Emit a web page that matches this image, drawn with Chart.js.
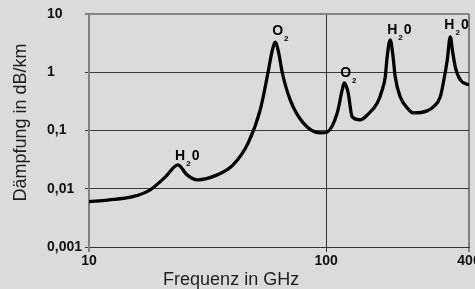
<!DOCTYPE html>
<html><head><meta charset="utf-8">
<script src="https://cdn.jsdelivr.net/npm/chart.js@4/dist/chart.umd.min.js"></script>
<style>html,body{margin:0;padding:0;background:#dbdbdb;overflow:hidden}</style>
</head><body>
<canvas id="c" width="475" height="289"></canvas>
<script>
// Data
const frequencies = [10, 12, 15.3, 18.1, 21, 23.7, 25.9, 28.6, 34.7, 40.5, 46.9, 52.7, 56.9, 59, 60.9, 63, 65.2, 70.5, 80, 94.3, 101, 111.3, 116.8, 119.1, 121, 123.8, 128.7, 139.2, 149, 164.2, 172.2, 177.4, 180.7, 186.2, 191, 195.5, 205.2, 219.8, 232.9, 266.6, 282.8, 302.6, 311.7, 323.9, 333.6, 341, 350.2, 367.7, 400];
const attenuation = [0.006, 0.0064, 0.0073, 0.0096, 0.016, 0.0257, 0.0173, 0.0142, 0.0173, 0.0257, 0.0613, 0.2256, 1.01, 2.2, 3.3, 2.2, 1.01, 0.335, 0.135, 0.091, 0.0946, 0.2, 0.497, 0.655, 0.6, 0.441, 0.171, 0.152, 0.185, 0.297, 0.497, 0.831, 1.83, 3.58, 2.0, 0.831, 0.377, 0.244, 0.2, 0.217, 0.254, 0.377, 0.655, 1.63, 4.03, 2.3, 1.23, 0.738, 0.606];
const xTickValues = [10, 100, 400];
const xTickLabels = ['10', '100', '400'];
const yTickValues = [0.001, 0.01, 0.1, 1, 10];
const yTickLabels = ['0,001', '0,01', '0,1', '1', '10'];
const xTitle = 'Frequenz in GHz';
const yTitle = 'Dämpfung in dB/km';
const labelFreq = [23.06, 59.2, 114.6, 180.7, 314.9];
const labelAtt = [0.0313, 4.36, 0.831, 4.54, 5.53];
const labelMain = ['H', 'O', 'O', 'H', 'H'];
const labelSub = ['2', '2', '2', '2', '2'];
const labelTail = ['0', '', '', '0', '0'];

const FONT = '"Liberation Sans", Arial, sans-serif';

const decor = {
  id: 'decor',
  beforeDraw(chart) {
    const c = chart.ctx;
    c.save();
    c.fillStyle = '#dbdbdb';
    c.fillRect(0, 0, chart.width, chart.height);
    c.restore();
  },
  afterDraw(chart) {
    const ctx = chart.ctx, a = chart.chartArea, xs = chart.scales.x, ys = chart.scales.y;
    ctx.save();
    ctx.fillStyle = '#1e1e1e';
    ctx.font = '18px ' + FONT;
    ctx.textAlign = 'center';
    ctx.textBaseline = 'alphabetic';
    ctx.fillText(xTitle, a.left + a.width * 0.374, chart.height - 4);
    ctx.save();
    ctx.translate(21, a.top + a.height * 0.466);
    ctx.rotate(-Math.PI / 2);
    ctx.textBaseline = 'middle';
    ctx.fillText(yTitle, 0, 0);
    ctx.restore();

    ctx.textAlign = 'left';
    ctx.textBaseline = 'alphabetic';
    ctx.fillStyle = '#000';
    for (let i = 0; i < labelFreq.length; i++) {
      const px = xs.getPixelForValue(labelFreq[i]);
      const py = ys.getPixelForValue(labelAtt[i]);
      ctx.font = 'bold 14px ' + FONT;
      ctx.fillText(labelMain[i], px, py);
      let w = ctx.measureText(labelMain[i]).width;
      ctx.font = 'bold 8px ' + FONT;
      ctx.fillText(labelSub[i], px + w + 1, py + 6);
      w += ctx.measureText(labelSub[i]).width + 2;
      ctx.font = 'bold 14px ' + FONT;
      ctx.fillText(labelTail[i], px + w, py);
    }
    ctx.restore();
  }
};

new Chart(document.getElementById('c'), {
  type: 'line',
  data: {
    datasets: [{
      data: frequencies.map((f, i) => ({ x: f, y: attenuation[i] })),
      borderColor: '#000',
      borderWidth: 3.3,
      pointRadius: 0,
      fill: false,
      cubicInterpolationMode: 'monotone'
    }]
  },
  options: {
    responsive: false,
    animation: false,
    layout: { padding: { left: 47, right: 6, top: 14, bottom: 0 } },
    plugins: { legend: { display: false }, tooltip: { enabled: false } },
    scales: {
      x: {
        type: 'logarithmic', min: 10, max: 400,
        afterBuildTicks(s) { s.ticks = xTickValues.map(v => ({ value: v })); },
        afterFit(s) { s.paddingLeft = 0; s.paddingRight = 0; s.height = 42; },
        ticks: {
          autoSkip: false, maxRotation: 0, minRotation: 0, padding: 1, color: '#111',
          font: { family: FONT, size: 14, weight: 'bold' },
          callback: (v) => xTickLabels[xTickValues.indexOf(v)]
        },
        grid: {
          color: c => (c.tick && c.tick.value === 100) ? '#333' : '#808080',
          lineWidth: c => (c.tick && c.tick.value === 100) ? 1 : 2,
          tickLength: 5, drawTicks: true
        },
        border: { display: true, color: '#333', width: 1 }
      },
      y: {
        type: 'logarithmic', min: 0.001, max: 10,
        afterBuildTicks(s) { s.ticks = yTickValues.map(v => ({ value: v })); },
        afterFit(s) { s.width = 42; s.paddingTop = 0; s.paddingBottom = 0; },
        ticks: {
          autoSkip: false, crossAlign: 'far', padding: 2, color: '#111',
          font: { family: FONT, size: 14, weight: 'bold' },
          callback: (v) => yTickLabels[yTickValues.indexOf(v)]
        },
        grid: {
          color: c => (c.tick && c.tick.value === 10) ? '#858585' : '#3a3a3a',
          lineWidth: c => (c.tick && c.tick.value === 10) ? 2 : 1,
          tickLength: 4, drawTicks: true
        },
        border: { display: true, color: '#808080', width: 2 }
      }
    }
  },
  plugins: [decor]
});
</script>
</body></html>
